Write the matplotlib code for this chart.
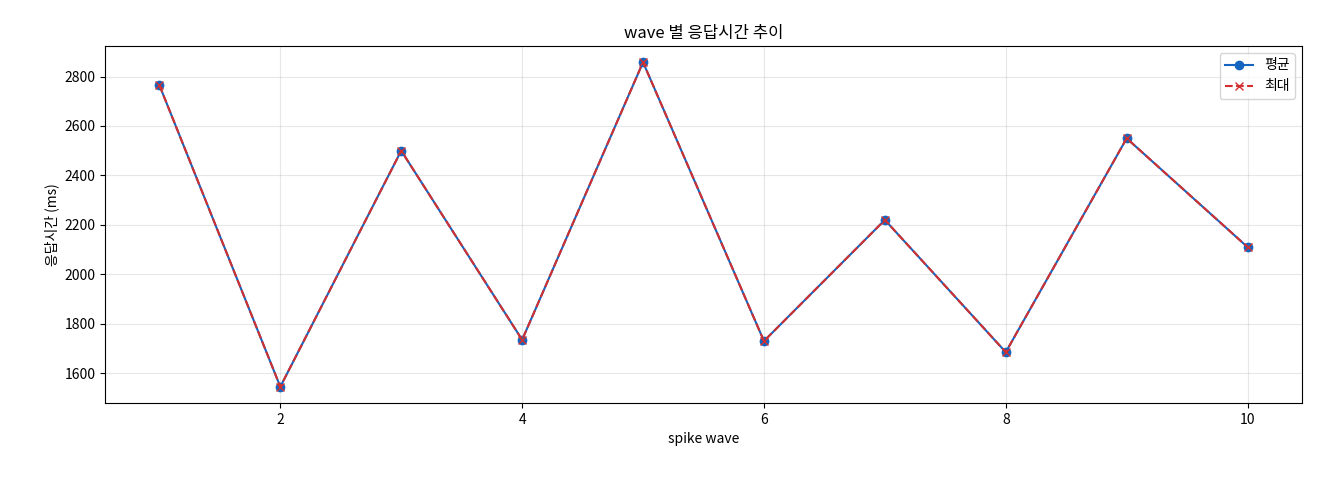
import matplotlib
matplotlib.use("Agg")
import matplotlib.pyplot as plt

plt.rcParams['font.family'] = ['Noto Sans CJK KR', 'DejaVu Sans']

waves = [1, 2, 3, 4, 5, 6, 7, 8, 9, 10]
avg_ms = [2765, 1545, 2500, 1735, 2858, 1730, 2220, 1685, 2550, 2110]
max_ms = [2765, 1545, 2500, 1735, 2858, 1730, 2220, 1685, 2550, 2110]

fig = plt.figure(figsize=(13.2, 4.8), dpi=100)
ax = fig.add_axes([105/1320, 1-403/480, (1302-105)/1320, (403-46)/480])
ax.plot(waves, avg_ms, marker='o', color='#1565c0', label='평균', markersize=6)
ax.plot(waves, max_ms, marker='x', linestyle='--', color='#d32f2f', label='최대', markersize=6)
ax.set_title('wave 별 응답시간 추이', fontsize=12)
ax.set_xlabel('spike wave', fontsize=10)
ax.set_ylabel('응답시간 (ms)', fontsize=10)
ax.grid(True, alpha=0.3)
ax.legend(loc='upper right')
fig.savefig('out.png', dpi=100)
